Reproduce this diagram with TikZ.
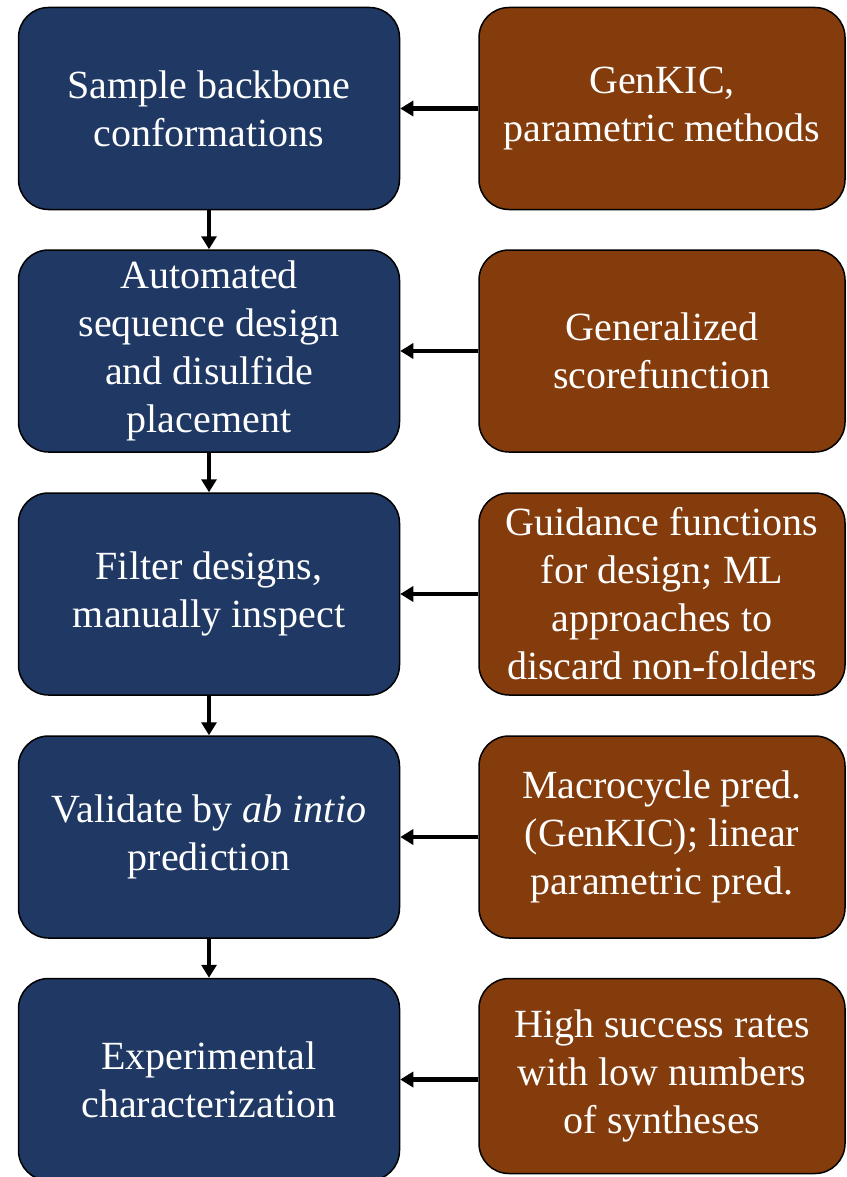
\documentclass[tikz,border=0pt]{standalone}
\usepackage{fontspec}
\setmainfont{Liberation Serif}
\usetikzlibrary{arrows.meta}
\definecolor{stepblue}{HTML}{1F3864}
\definecolor{toolbrown}{HTML}{843C0C}

\begin{document}
\begin{tikzpicture}[x=1pt, y=-1pt,
	stepbox/.style={draw=black, line width=1.5pt, fill=stepblue, rounded corners=30pt, minimum width=381pt, minimum height=202pt, text=white, align=center, inner sep=0pt, font=\fontsize{40}{48}\selectfont},
	toolbox/.style={stepbox, fill=toolbrown, minimum width=366pt},
	flow/.style={line width=4.5pt, -{Triangle[length=13pt,width=15pt]}}]
			\useasboundingbox (0,0) rectangle (846,1177);
			\node[stepbox] (sample) at (209,108.5) {Sample backbone\\conformations};
			\node[stepbox] (design) at (209,351) {Automated\\sequence design\\and disulfide\\placement};
			\node[stepbox] (filter) at (209,594) {Filter designs,\\manually inspect};
			\node[stepbox] (validate) at (209,837) {Validate by \textit{ab intio}\\prediction};
			\node[stepbox] (exper) at (209,1079.5) {Experimental\\characterization};
			\node[toolbox] (genkic) at (662,108.5) {GenKIC,\\parametric methods};
			\node[toolbox] (score) at (662,351) {Generalized\\scorefunction};
			\node[toolbox] (guide) at (662,594) {Guidance functions\\for design; ML\\approaches to\\discard non-folders};
			\node[toolbox] (pred) at (662,837) {Macrocycle pred.\\(GenKIC); linear\\parametric pred.};
			\node[toolbox, minimum height=195pt] (rates) at (662,1076) {High success rates\\with low numbers\\of syntheses};
			\draw[flow] (sample) -- (design);
			\draw[flow] (design) -- (filter);
			\draw[flow] (filter) -- (validate);
			\draw[flow] (validate) -- (exper);
			\draw[flow] (genkic) -- (sample);
			\draw[flow] (score) -- (design);
			\draw[flow] (guide) -- (filter);
			\draw[flow] (pred) -- (validate);
			\draw[flow] (rates.west |- exper) -- (exper);
	\end{tikzpicture}
\end{document}
